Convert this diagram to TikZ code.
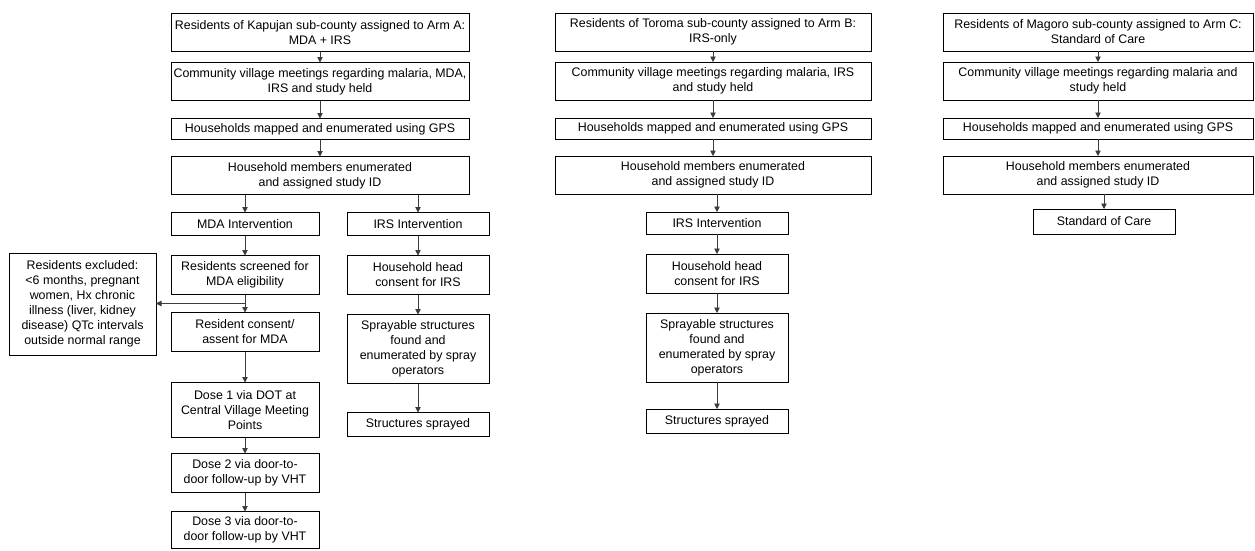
\documentclass[tikz,border=0pt]{standalone}
\usepackage{fontspec}
\setmainfont{Liberation Sans}
\usetikzlibrary{
  arrows.meta,
  calc,
  positioning
}
\definecolor{linegray}{RGB}{60,60,60}

\begin{document}
\begin{tikzpicture}[
  x=1pt, y=-1pt,
  box/.style={draw, line width=0.9pt, align=center, inner xsep=2pt, inner ysep=3pt,
              outer sep=0pt, font=\fontsize{12.4}{14.9}\selectfont},
  armA/.style={box, minimum width=298pt},
  armB/.style={box, minimum width=316pt},
  armC/.style={box, minimum width=310pt},
  sub/.style={box, minimum width=148pt},
  irs/.style={box, minimum width=142pt},
  one/.style={minimum height=22pt},
  two/.style={minimum height=38pt},
  arr/.style={-{Triangle[length=5.5pt, width=5.5pt]}, line width=0.75pt, draw=linegray},
  node distance=18pt
]
\useasboundingbox (0,0) rectangle (1255,550);

% Arm A
\node[armA, two] at (320,32.5) (a1) {Residents of Kapujan sub-county assigned to Arm A:\\MDA + IRS};
\node[armA, two, below=11pt of a1] (a2) {Community village meetings regarding malaria, MDA,\\IRS and study held};
\node[armA, one, minimum height=21pt, below=of a2] (a3) {Households mapped and enumerated using GPS};
\node[armA, two, below=17pt of a3] (a4) {Household members enumerated\\and assigned study ID};

\node[sub, one, minimum height=23pt, below=18pt of a4.south west, anchor=north west] (mda) {MDA Intervention};
\node[sub, two, minimum height=39pt, below=20pt of mda] (scr) {Residents screened for\\MDA eligibility};
\node[sub, two, minimum height=39pt, below=of scr] (cons) {Resident consent/\\assent for MDA};
\node[sub, minimum height=55pt, below=31pt of cons] (dose1) {Dose 1 via DOT at\\Central Village Meeting\\Points};
\node[sub, two, minimum height=39pt, below=16pt of dose1] (dose2) {Dose 2 via door-to-\\door follow-up by VHT};
\node[sub, two, minimum height=37pt, below=19pt of dose2] (dose3) {Dose 3 via door-to-\\door follow-up by VHT};
\node[sub, minimum width=147pt, minimum height=102pt] at (82.5,304) (excl) {Residents excluded:\\<6 months, pregnant\\women, Hx chronic\\illness (liver, kidney\\disease) QTc intervals\\outside normal range};

\node[irs, one, minimum height=23pt, below=18pt of a4.south east, anchor=north east, xshift=20pt] (irsA) {IRS Intervention};
\node[irs, two, minimum height=39pt, below=20pt of irsA] (headA) {Household head\\consent for IRS};
\node[irs, minimum height=69pt, below=20pt of headA] (sprayA) {Sprayable structures\\found and\\enumerated by spray\\operators};
\node[irs, one, minimum height=24pt, below=29pt of sprayA] (doneA) {Structures sprayed};

% Arm B
\node[armB, two] at (713,32) (b1) {Residents of Toroma sub-county assigned to Arm B:\\IRS-only};
\node[armB, two, below=11pt of b1] (b2) {Community village meetings regarding malaria, IRS\\and study held};
\node[armB, one, minimum height=21pt, below=of b2] (b3) {Households mapped and enumerated using GPS};
\node[armB, two, below=17pt of b3] (b4) {Household members enumerated\\and assigned study ID};

\node[irs, one, minimum height=22pt, below=18pt of b4, xshift=4pt] (irsB) {IRS Intervention};
\node[irs, two, minimum height=39pt, below=20pt of irsB] (headB) {Household head\\consent for IRS};
\node[irs, minimum height=69pt, below=20pt of headB] (sprayB) {Sprayable structures\\found and\\enumerated by spray\\operators};
\node[irs, one, minimum height=24pt, below=27pt of sprayB] (doneB) {Structures sprayed};

% Arm C
\node[armC, two] at (1098,32) (c1) {Residents of Magoro sub-county assigned to Arm C:\\Standard of Care};
\node[armC, two, below=11pt of c1] (c2) {Community village meetings regarding malaria and\\study held};
\node[armC, one, minimum height=21pt, below=of c2] (c3) {Households mapped and enumerated using GPS};
\node[armC, two, below=17pt of c3] (c4) {Household members enumerated\\and assigned study ID};
\node[irs, one, minimum height=25pt, below=15pt of c4, xshift=6pt] (soc) {Standard of Care};

% Connectors
\draw[arr] (a1) -- (a2);
\draw[arr] (a2) -- (a3);
\draw[arr] (a3) -- (a4);
\draw[arr] (a4.south -| mda) -- (mda);
\draw[arr] (mda) -- (scr);
\draw[arr] (scr) -- (cons);
\draw[arr] (cons) -- (dose1);
\draw[arr] (dose1) -- (dose2);
\draw[arr] (dose2) -- (dose3);
\coordinate (cut) at ($(scr.south)!0.5!(cons.north)$);
\draw[arr] (cut) -- (cut -| excl.east);
\draw[arr] (a4.south -| irsA) -- (irsA);
\draw[arr] (irsA) -- (headA);
\draw[arr] (headA) -- (sprayA);
\draw[arr] (sprayA) -- (doneA);

\draw[arr] (b1) -- (b2);
\draw[arr] (b2) -- (b3);
\draw[arr] (b3) -- (b4);
\draw[arr] (b4.south -| irsB) -- (irsB);
\draw[arr] (irsB) -- (headB);
\draw[arr] (headB) -- (sprayB);
\draw[arr] (sprayB) -- (doneB);

\draw[arr] (c1) -- (c2);
\draw[arr] (c2) -- (c3);
\draw[arr] (c3) -- (c4);
\draw[arr] (c4.south -| soc) -- (soc);

\end{tikzpicture}
\end{document}
